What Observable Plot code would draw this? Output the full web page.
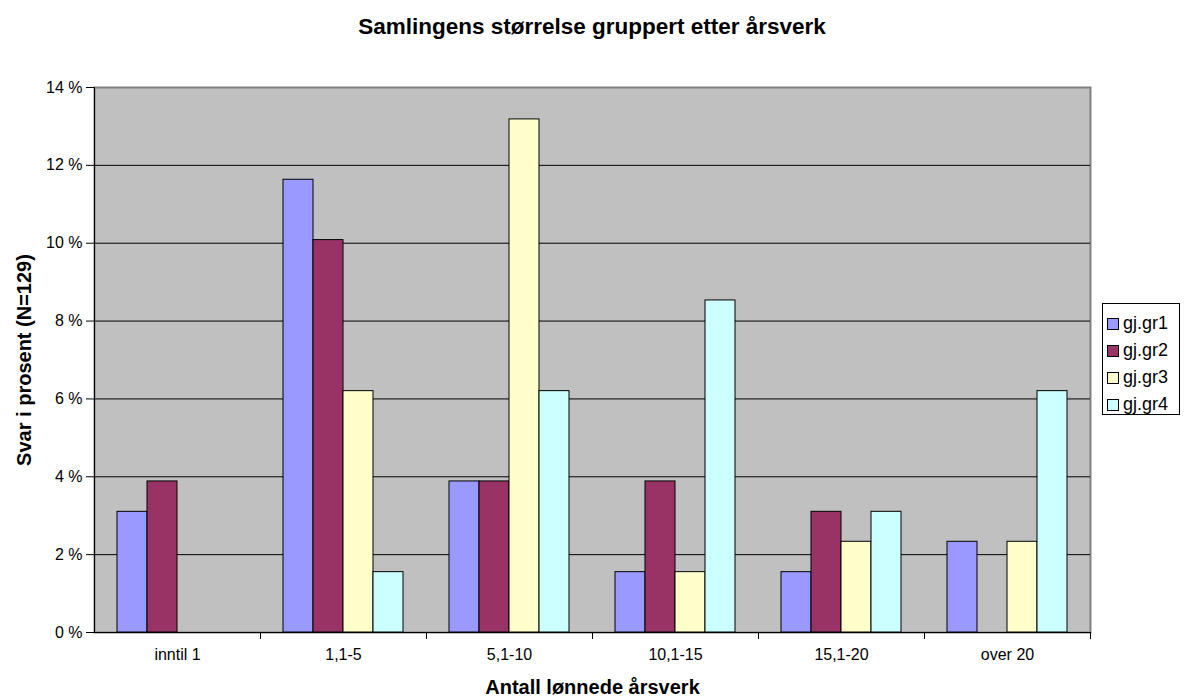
<!DOCTYPE html>
<html>
<head>
<meta charset="utf-8">
<script src="https://cdn.jsdelivr.net/npm/d3@7"></script>
<script src="https://cdn.jsdelivr.net/npm/@observablehq/plot@0.6"></script>
<style>
  body { margin: 0; background: #fff; font-family: Arial, "Liberation Sans", sans-serif; }
  #wrap { position: relative; width: 1184px; height: 696px; }
  #title { position: absolute; left: 0; top: 14px; width: 1184px; text-align: center; font-weight: bold; font-size: 22.5px; color: #000; }
  #chart { position: absolute; left: 0; top: 0; }
  #legend { position: absolute; left: 1102px; top: 303px; width: 78px; height: 112px; border: 1px solid #000; background: #fff; box-sizing: border-box; padding-top: 6px; }
  .item { display: flex; align-items: center; height: 27px; font-size: 18px; color: #000; }
  .sw { width: 10px; height: 10px; border: 1px solid #000; margin-left: 4px; margin-right: 4px; }
  g[aria-label="y-axis label"] text, g[aria-label="fx-axis label"] text { font-weight: bold; font-size: 20px; }
</style>
</head>
<body>
<div id="wrap">
  <div id="chart"></div>
  <div id="title">Samlingens størrelse gruppert etter årsverk</div>
  <div id="legend"></div>
</div>
<script>
const categories = ["inntil 1", "1,1-5", "5,1-10", "10,1-15", "15,1-20", "over 20"];
const series = ["gj.gr1", "gj.gr2", "gj.gr3", "gj.gr4"];
const colors = ["#9999FF", "#993366", "#FFFFCC", "#CCFFFF"];
const gr1 = [3.10, 11.63, 3.88, 1.55, 1.55, 2.33];
const gr2 = [3.88, 10.08, 3.88, 3.88, 3.10, 0];
const gr3 = [0, 6.20, 13.18, 1.55, 2.33, 2.33];
const gr4 = [0, 1.55, 6.20, 8.53, 3.10, 6.20];
const yTicks = [0, 2, 4, 6, 8, 10, 12, 14];

const valuesBySeries = [gr1, gr2, gr3, gr4];
const rows = [];
categories.forEach((c, i) => series.forEach((s, j) => rows.push({cat: c, series: s, value: valuesBySeries[j][i]})));
const bars = rows.filter(d => d.value > 0);

const plot = Plot.plot({
  width: 1184,
  height: 696,
  marginTop: 87,
  marginBottom: 64,
  marginLeft: 94,
  marginRight: 94,
  style: {fontFamily: "Arial, 'Liberation Sans', sans-serif", fontSize: "16px", color: "#000", background: "transparent"},
  fx: {domain: categories, padding: 0, label: null},
  x: {domain: series, paddingInner: 0, paddingOuter: 0.74, axis: null},
  y: {domain: [0, 14], label: null},
  color: {domain: series, range: colors},
  marks: [
    Plot.frame({facet: "super", fill: "#C0C0C0", stroke: "#808080", strokeWidth: 2}),
    Plot.gridY(yTicks.slice(1, -1), {stroke: "#000", strokeOpacity: 1, strokeWidth: 1}),
    Plot.barY(bars, {fx: "cat", x: "series", y: "value", fill: "series", stroke: "#000", strokeWidth: 1}),
    Plot.ruleY([0], {stroke: "#000", strokeWidth: 1}),
    Plot.frame({facet: "super", anchor: "left", stroke: "#000", strokeWidth: 1}),
    Plot.axisY(yTicks, {tickSize: 8, tickPadding: 4, tickFormat: d => d + " %", label: "Svar i prosent (N=129)", labelArrow: "none", labelAnchor: "center", labelOffset: 78, stroke: "#000"}),
    Plot.axisFx({anchor: "bottom", tickSize: 0, tickPadding: 16, label: "Antall lønnede årsverk", labelArrow: "none", labelAnchor: "center", labelOffset: 61}),
    Plot.axisFx({anchor: "bottom", tickSize: 7, tickFormat: () => "", dx: 83, label: null, stroke: "#000"})
  ]
});
document.getElementById("chart").appendChild(plot);

const legend = document.getElementById("legend");
series.forEach((s, i) => {
  const item = document.createElement("div");
  item.className = "item";
  const sw = document.createElement("div");
  sw.className = "sw";
  sw.style.background = colors[i];
  const t = document.createElement("span");
  t.textContent = s;
  item.appendChild(sw);
  item.appendChild(t);
  legend.appendChild(item);
});
</script>
</body>
</html>
